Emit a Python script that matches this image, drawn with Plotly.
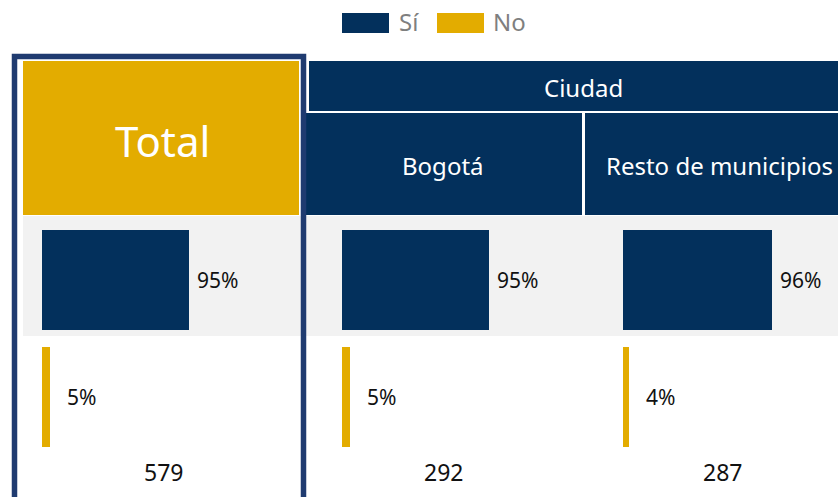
import plotly.graph_objects as go

# ---- data ----
columns = ["Total", "Bogotá", "Resto de municipios"]
group_title = "Ciudad"
answers = ["Sí", "No"]
si_pct = [95, 95, 96]
no_pct = [5, 5, 4]
base_n = [579, 292, 287]

# ---- style ----
W, H = 838, 497
NAVY = "#03305C"
GOLD = "#E3AC00"
FRAME = "#1F3B70"
BAND = "#F2F2F2"
FONT = "Noto Sans"
series_colors = [NAVY, GOLD]

# pixel helpers for layout placement
def px(x):
    return x / W

def py(y):
    return 1 - y / H

# horizontal layout of each column's bar panel
col_left = [42, 342, 623]
col_center = [163, 443, 722]
PX_PER_PCT = 1.547
XMAX = 130
label_shift = [6, 15]

fig = go.Figure()
annotations = []

for i, col in enumerate(columns):
    suffix = "" if i == 0 else str(i + 1)
    xa, ya = "x" + suffix, "y" + suffix
    values = [si_pct[i], no_pct[i]]
    for j, ans in enumerate(answers):
        fig.add_trace(go.Bar(
            x=[values[j]], y=[ans], orientation="h",
            marker=dict(color=series_colors[j], line=dict(width=0)),
            width=0.86, name=ans, showlegend=False,
            xaxis=xa, yaxis=ya, hoverinfo="skip",
        ))
        annotations.append(dict(
            x=values[j], y=ans, xref=xa, yref=ya, text=f"{values[j]}%",
            xanchor="left", xshift=label_shift[j],
            font=dict(family=FONT, size=21, color="#111111"),
        ))
    left = col_left[i]
    fig.layout["xaxis" + suffix] = dict(
        domain=[px(left), px(left + XMAX * PX_PER_PCT)], range=[0, XMAX],
        visible=False, fixedrange=True,
    )
    fig.layout["yaxis" + suffix] = dict(
        domain=[py(454.75), py(221.75)], type="category",
        categoryorder="array", categoryarray=answers, range=[1.5, -0.5],
        visible=False, fixedrange=True,
    )
    # base size under each column
    annotations.append(dict(
        x=px(col_center[i]), y=py(471.5), text=str(base_n[i]),
        font=dict(family=FONT, size=23, color="#111111"),
    ))


def rect(x0, y0, x1, y1, fill, line_color=None, line_width=0):
    return dict(
        type="rect", xref="paper", yref="paper",
        x0=px(x0), x1=px(x1), y0=py(y1), y1=py(y0),
        fillcolor=fill, line=dict(color=line_color or fill, width=line_width),
        layer="below",
    )

shapes = [
    rect(23, 216, 838, 336, BAND),              # shaded "Sí" row
    rect(23, 61, 299, 215, GOLD),               # Total header
    rect(309, 61, 838, 111, NAVY),              # group header
    rect(306, 113, 582, 215, NAVY),             # Bogotá header
    rect(585, 113, 838, 215, NAVY),             # Resto header
    # legend swatches
    rect(342, 13, 389, 33, series_colors[0]),
    rect(437, 13, 484, 33, series_colors[1]),
]
# frame around the Total column
shapes.append(dict(
    type="rect", xref="paper", yref="paper",
    x0=px(14.5), x1=px(303.5), y0=py(530), y1=py(56.5),
    fillcolor="rgba(0,0,0,0)", line=dict(color=FRAME, width=5.5),
    layer="above",
))

header_font = dict(family=FONT, color="white")
annotations += [
    dict(x=px(162), y=py(140), text=columns[0], font=dict(size=42, **header_font)),
    dict(x=px(583), y=py(87), text=group_title, font=dict(size=24, **header_font)),
    dict(x=px(443), y=py(165), text=columns[1], font=dict(size=24, **header_font)),
    dict(x=px(604), y=py(165), text=columns[2], xanchor="left",
         font=dict(size=24, **header_font)),
    dict(x=px(397), y=py(22), text=answers[0], xanchor="left",
         font=dict(family=FONT, size=24, color="#7F7F7F")),
    dict(x=px(491), y=py(22), text=answers[1], xanchor="left",
         font=dict(family=FONT, size=24, color="#7F7F7F")),
]
for a in annotations:
    a.setdefault("xref", "paper")
    a.setdefault("yref", "paper")
    a.setdefault("xanchor", "center")
    a.setdefault("yanchor", "middle")
    a["showarrow"] = False

fig.update_layout(
    width=W, height=H,
    margin=dict(l=0, r=0, t=0, b=0),
    paper_bgcolor="white",
    plot_bgcolor="rgba(0,0,0,0)",
    showlegend=False,
    shapes=shapes,
    annotations=annotations,
    bargap=0,
)

fig.write_html("out.html", config={"displayModeBar": False})
